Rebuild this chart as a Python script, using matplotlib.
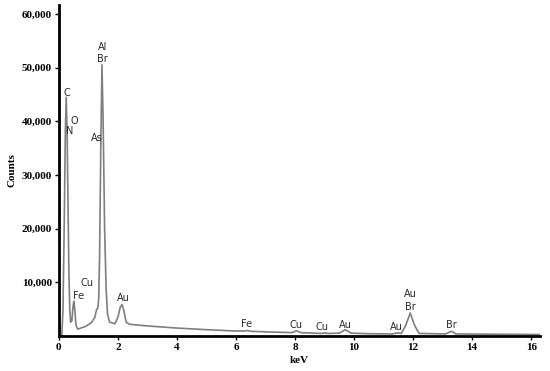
import numpy as np
from matplotlib import pyplot as plt

# spectrum (keV, counts)
energy = [0.10, 0.14, 0.18, 0.22, 0.25, 0.28, 0.31, 0.34, 0.37, 0.40, 0.44, 0.48,
          0.51, 0.54, 0.58, 0.64, 0.90, 1.10, 1.22, 1.28, 1.32, 1.35, 1.38, 1.42,
          1.46, 1.50, 1.55, 1.60, 1.65, 1.72, 1.90, 2.00, 2.08, 2.14, 2.20, 2.28,
          2.40, 3.0, 4.0, 5.0, 6.0, 6.3, 6.4, 6.5, 7.0, 7.9, 8.04, 8.2, 8.9, 9.0,
          9.1, 9.5, 9.7, 9.9, 10.5, 11.3, 11.45, 11.6, 11.75, 11.9, 12.05, 12.2,
          13.1, 13.3, 13.45, 16.3]
counts = [0, 5000, 20000, 38000, 44500, 38000, 25000, 12000, 5000, 2600, 2800, 5500,
          6500, 5000, 2000, 1300, 1800, 2500, 3500, 5000, 5200, 7000, 15000, 35000,
          50500, 40000, 20000, 9000, 4000, 2600, 2300, 3500, 5400, 5900, 4800, 2600,
          2200, 1900, 1500, 1200, 950, 950, 1050, 900, 800, 650, 1000, 650, 500, 600,
          500, 550, 1200, 550, 450, 400, 600, 500, 2000, 4300, 2000, 500,
          400, 900, 400, 300]

# element labels (text, keV, counts)
labels = ['C', 'O', 'N', 'As', 'Al', 'Br', 'Cu', 'Fe', 'Au', 'Fe', 'Cu', 'Cu',
          'Au', 'Au', 'Au', 'Br', 'Br']
label_x = [0.27, 0.51, 0.37, 1.29, 1.49, 1.49, 0.95, 0.68, 2.17, 6.37, 8.03, 8.9,
           9.7, 11.42, 11.9, 11.9, 13.29]
label_y = [45300, 40100, 38200, 36900, 53900, 51700, 9900, 7500, 7100, 2200, 2100,
           1700, 2100, 1700, 7800, 5400, 2100]

xticks = [0, 2, 4, 6, 8, 10, 12, 14, 16]
yticks = [10000, 20000, 30000, 40000, 50000, 60000]

fig = plt.figure(figsize=(5.5, 3.71), dpi=100)
ax = fig.add_axes([0.107, 0.094, 0.875, 0.893])

ax.plot(energy, counts, color='#7f7f7f', lw=1.2)

for t, x, y in zip(labels, label_x, label_y):
    ax.text(x, y, t, ha='center', va='center', fontsize=7, color='#2b2b2b',
            family='DejaVu Sans')

ax.set_xlim(0, 16.3)
ax.set_ylim(0, 61700)
ax.set_xticks(xticks)
ax.set_yticks(yticks)
ax.set_yticklabels(['{:,}'.format(v) for v in yticks])
for s in ['top', 'right']:
    ax.spines[s].set_visible(False)
ax.spines['left'].set_linewidth(2)
ax.spines['bottom'].set_linewidth(2)
ax.tick_params(direction='out', length=3, width=1, labelsize=8, pad=2)
for lab in ax.get_xticklabels() + ax.get_yticklabels():
    lab.set_family('Liberation Serif')
    lab.set_fontweight('bold')

ax.set_xlabel('keV', family='Liberation Serif', fontweight='bold', fontsize=8, labelpad=3)
ax.set_ylabel('Counts', family='Liberation Serif', fontweight='bold', fontsize=8, labelpad=4)

plt.savefig('out.png', dpi=100)
